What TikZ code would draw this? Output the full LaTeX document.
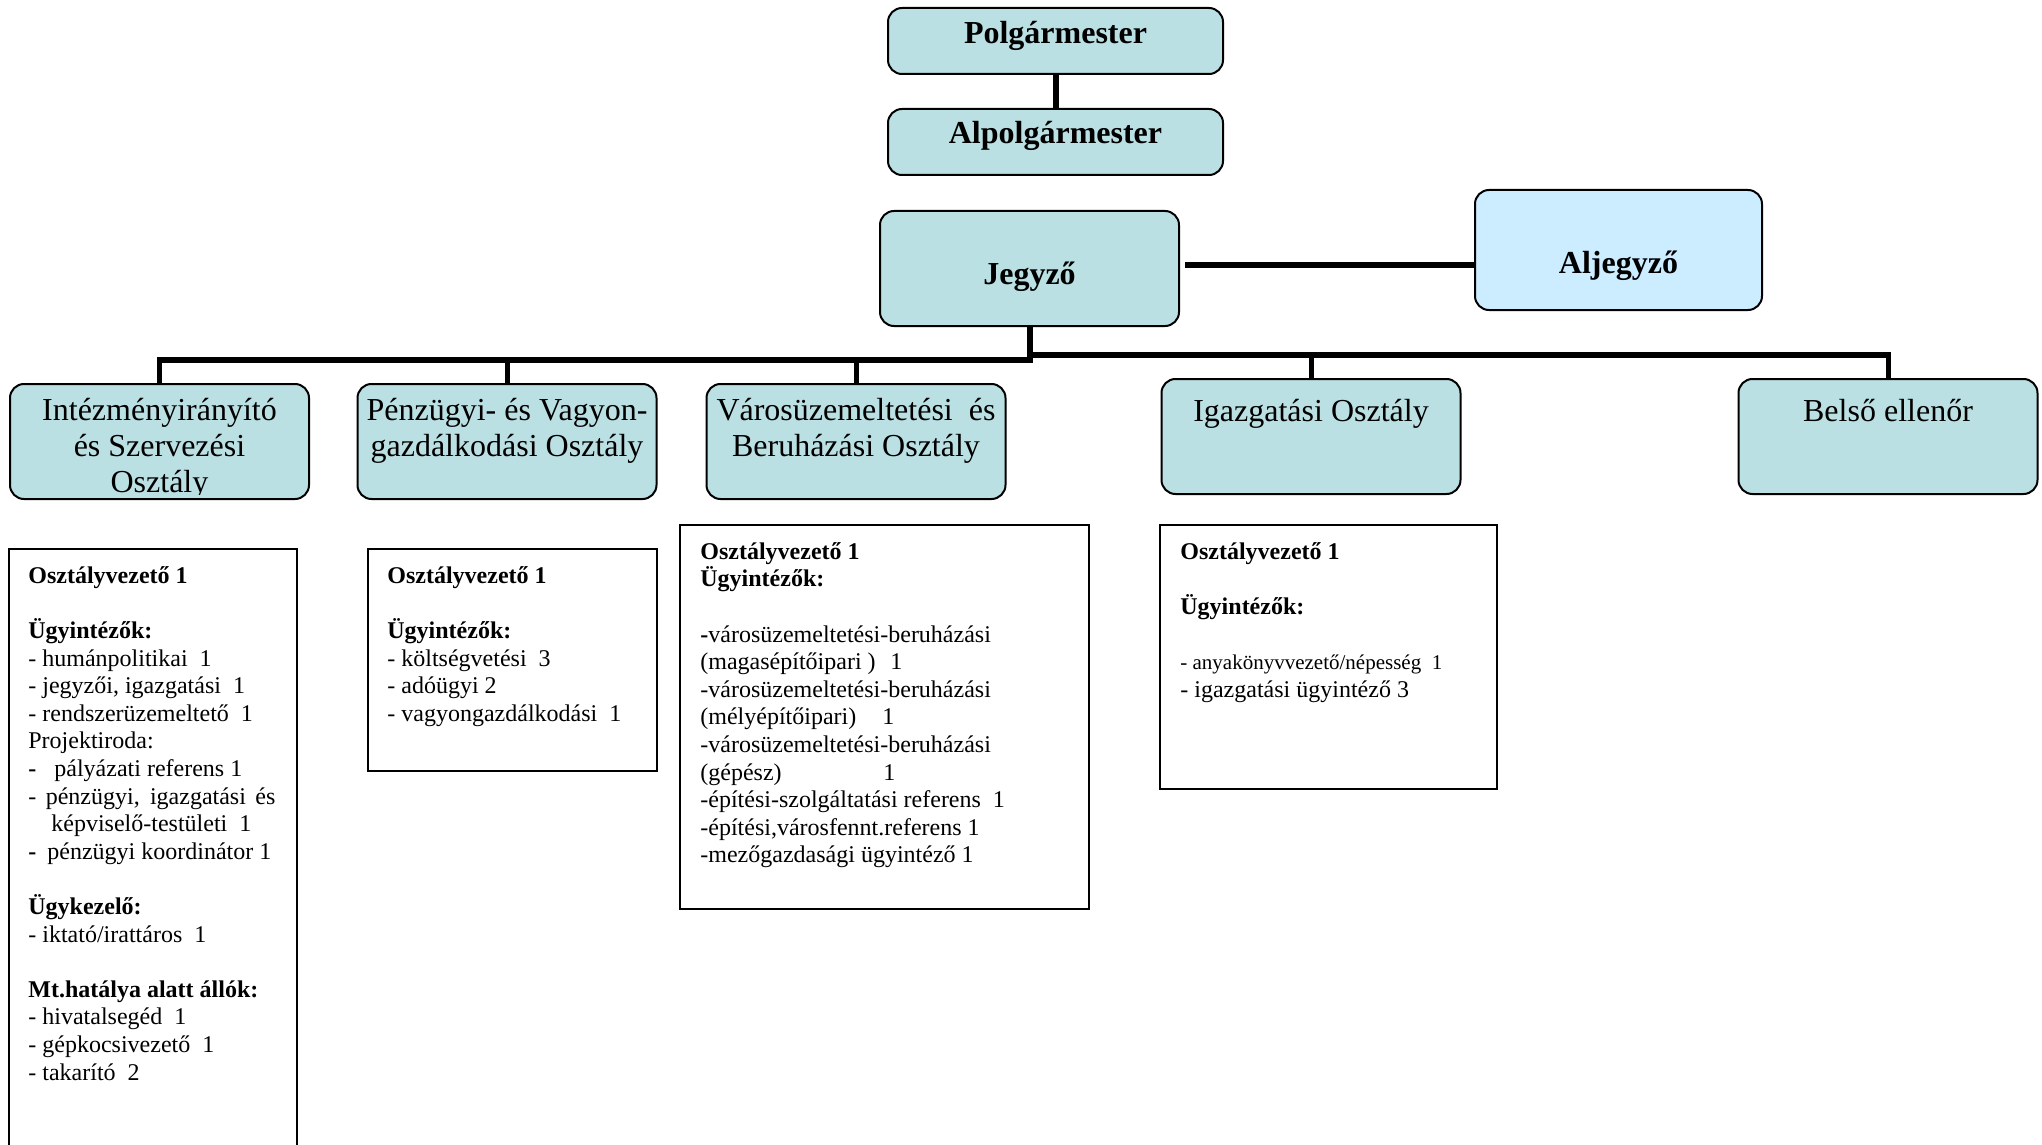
\documentclass[tikz,border=0pt]{standalone}
\usepackage{fontspec}
\setmainfont{Liberation Serif}
\usepackage{tikz}
\usetikzlibrary{positioning}

\definecolor{boxteal}{HTML}{BBE0E3}
\definecolor{boxblue}{HTML}{CCECFF}

\begin{document}
\begin{tikzpicture}[x=0.5pt, y=-0.5pt,
    headbox/.style={draw, line width=1pt, fill=boxteal, rounded corners=7pt, inner sep=0pt},
    headtxt/.style={anchor=base, inner sep=0pt, font=\fontsize{16}{18}\selectfont\bfseries},
    depttxt/.style={anchor=north, inner sep=0pt, align=center, font=\fontsize{16}{18}\selectfont,
      execute at begin node={\rule{0pt}{14pt}}},
    listbox/.style={draw, line width=1pt, inner sep=0pt},
    listtxt/.style={anchor=north west, inner sep=0pt, align=left, font=\fontsize{12}{13.8}\selectfont,
      execute at begin node={\rule{0pt}{10pt}}},
    bus/.style={line width=3pt, line cap=rect},
    drop/.style={line width=2.5pt}]
  \useasboundingbox (0,0) rectangle (2042,1145);

  % Draw the leaders
  \node[headbox, minimum width=167.5pt, minimum height=33pt] (polg) at (1055.5,41) {};
  \node[headbox, minimum width=167.5pt, minimum height=33pt] (alpolg) at (1055.5,142) {};
  \node[headbox, minimum width=149.5pt, minimum height=57.5pt] (jegyzo) at (1029.5,268.5) {};
  \node[headbox, fill=boxblue, minimum width=143.5pt, minimum height=60pt] (aljegyzo) at (1618.5,250) {};
  \node[headtxt] (polg-t) at ([yshift=-18.5pt]polg.north) {Polgármester};
  \node[headtxt] (alpolg-t) at ([yshift=-18pt]alpolg.north) {Alpolgármester};
  \node[headtxt] (jegyzo-t) at ([yshift=-8pt]jegyzo.center) {Jegyző};
  \node[headtxt] (aljegyzo-t) at ([yshift=-11.5pt]aljegyzo.center) {Aljegyző};

  % Draw the departments
  \foreach \d/\x/\y in {intez/159.5/441.5, penz/507/441.5, varos/856/441.5, igazg/1311/436.5, belso/1888/436.5}
    \node[headbox, minimum width=149.5pt, minimum height=57.5pt] (\d) at (\x,\y) {};
  \begin{scope}
    \clip (intez.north west) rectangle ([yshift=3pt]intez.south east);
    \node[depttxt] (intez-t) at ([yshift=-7.5pt]intez.north) {Intézményirányító\\és Szervezési\\Osztály};
  \end{scope}
  \node[depttxt] (penz-t) at ([yshift=-7.5pt]penz.north) {Pénzügyi- és Vagyon-\\gazdálkodási Osztály};
  \node[depttxt] (varos-t) at ([yshift=-7.5pt]varos.north) {Városüzemeltetési\ \ és\\Beruházási Osztály};
  \node[depttxt] (igazg-t) at ([yshift=-7.5pt]igazg.north) {Igazgatási Osztály};
  \node[depttxt] (belso-t) at ([yshift=-7.5pt]belso.north) {Belső ellenőr};

  % Draw the connectors
  \coordinate (bl) at (0,360);
  \coordinate (br) at (0,355);
  \coordinate (jl) at ([xshift=2.5pt,yshift=1.75pt]jegyzo.east);
  \draw[line width=3pt] (polg.south) -- (alpolg.north);
  \draw[line width=3pt] (jl) -- (jl -| aljegyzo.west);
  \draw[line width=3pt] (jegyzo.south) -- (jegyzo.south |- bl);
  \draw[bus] (intez.north |- bl) -- (jegyzo.south |- bl);
  \draw[bus] (jegyzo.south |- br) -- (belso.north |- br);
  \foreach \d in {intez,penz,varos}
    \draw[drop] (\d.north |- bl) -- (\d.north);
  \foreach \d in {igazg,belso}
    \draw[drop] (\d.north |- br) -- (\d.north);

  % Draw the staff lists
  \node[listbox, minimum width=144pt, minimum height=305.5pt] (intez-l) at (153,854.5) {};
  \node[listbox, minimum width=144.5pt, minimum height=111pt] (penz-l) at (512.5,660) {};
  \node[listbox, minimum width=204.5pt, minimum height=192pt] (varos-l) at (884.5,717) {};
  \node[listbox, minimum width=168.5pt, minimum height=132pt] (igazg-l) at (1328.5,657) {};

  \node[listtxt] (intez-lt) at ([xshift=10pt,yshift=-9pt]intez-l.north west) {%
    \textbf{Osztályvezető 1}\\[13.8pt]
    \textbf{Ügyintézők:}\\
    - humánpolitikai\ \ 1\\
    - jegyzői, igazgatási\ \ 1\\
    - rendszerüzemeltető\ \ 1\\
    Projektiroda:\\
    \makebox[13pt][l]{\textbf{-}}pályázati referens 1\\
    \makebox[123.5pt][s]{- pénzügyi, igazgatási és}\\
    \hspace*{11.5pt}képviselő-testületi\ \ 1\\
    \makebox[9.5pt][l]{\textbf{-}}pénzügyi koordinátor 1\\[13.8pt]
    \textbf{Ügykezelő:}\\
    - iktató/irattáros\ \ 1\\[13.8pt]
    \textbf{Mt.hatálya alatt állók:}\\
    - hivatalsegéd\ \ 1\\
    - gépkocsivezető\ \ 1\\
    - takarító\ \ 2};
  \node[listtxt] (penz-lt) at ([xshift=10pt,yshift=-9pt]penz-l.north west) {%
    \textbf{Osztályvezető 1}\\[13.8pt]
    \textbf{Ügyintézők:}\\
    - költségvetési\ \ 3\\
    - adóügyi 2\\
    - vagyongazdálkodási\ \ 1};
  \node[listtxt] (varos-lt) at ([xshift=10.5pt,yshift=-9pt]varos-l.north west) {%
    \textbf{Osztályvezető 1}\\
    \textbf{Ügyintézők:}\\[13.8pt]
    \textbf{-}városüzemeltetési-beruházási\\
    \makebox[95pt][l]{(magasépítőipari )}1\\
    -városüzemeltetési-beruházási\\
    \makebox[91pt][l]{(mélyépítőipari)}1\\
    -városüzemeltetési-beruházási\\
    \makebox[91.5pt][l]{(gépész)}1\\
    -építési-szolgáltatási referens\ \ 1\\
    -építési,városfennt.referens 1\\
    -mezőgazdasági ügyintéző 1};
  \node[listtxt] (igazg-lt) at ([xshift=10.5pt,yshift=-9pt]igazg-l.north west) {%
    \textbf{Osztályvezető 1}\\[13.8pt]
    \textbf{Ügyintézők:}\\[13.8pt]
    {\fontsize{10.5}{13.8}\selectfont - anyakönyvvezető/népesség\ \ 1}\\
    - igazgatási ügyintéző 3};
\end{tikzpicture}
\end{document}
